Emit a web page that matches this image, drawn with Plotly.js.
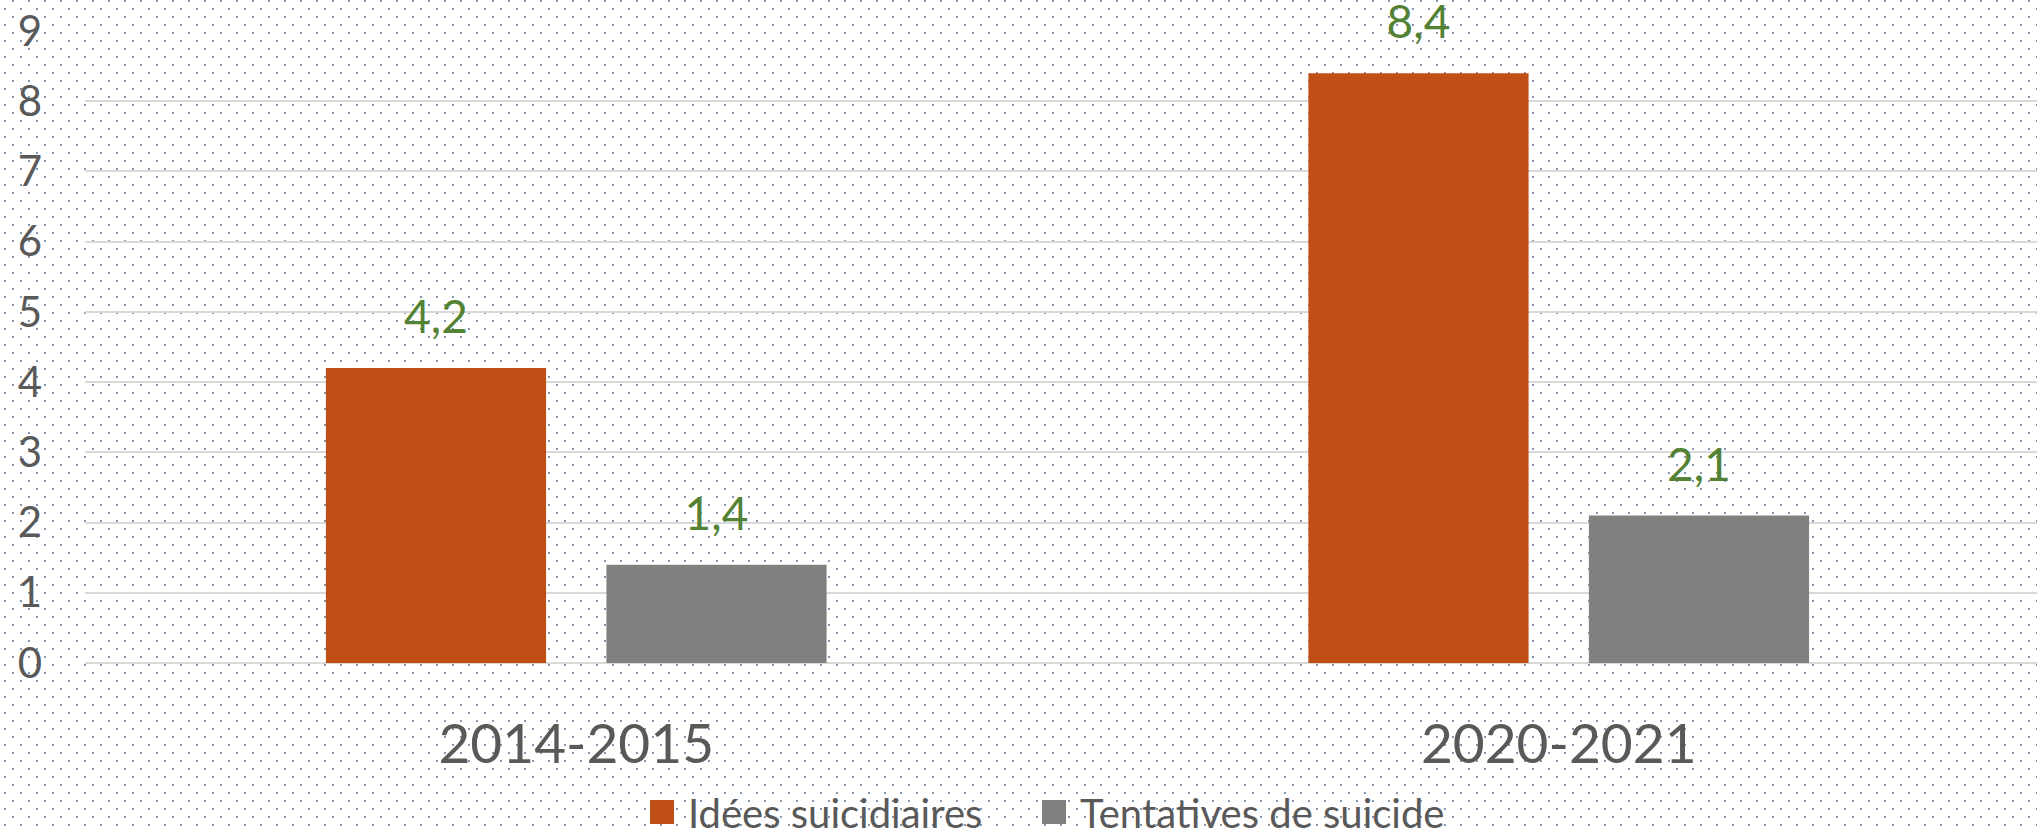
<!DOCTYPE html>
<html>
<head>
<meta charset="utf-8">
<script src="https://cdn.plot.ly/plotly-3.0.1.min.js"></script>
<style>
html, body { margin:0; padding:0; width:2037px; height:829px; overflow:hidden; }
body {
  background-color:#ffffff;
  background-image:url("data:image/svg+xml;utf8,<svg xmlns='http://www.w3.org/2000/svg' width='16' height='16'><rect x='12' y='0' width='2' height='2' fill='%238497b0'/><rect x='4' y='8' width='2' height='2' fill='%238497b0'/></svg>");
  background-repeat:repeat;
  background-position:0 0;
}
#chart { width:2037px; height:829px; }
</style>
</head>
<body>
<div id="chart"></div>
<script>
// ---- data ----
const categories = ['2014-2015', '2020-2021'];
const seriesNames = ['Idées suicidiaires', 'Tentatives de suicide'];
const ideesValues = [4.2, 8.4];
const tentativesValues = [1.4, 2.1];
const yTickValues = [0, 1, 2, 3, 4, 5, 6, 7, 8, 9];
const yTickLabels = ['0', '1', '2', '3', '4', '5', '6', '7', '8', '9'];

// ---- styles ----
const FONT = 'Lato, "Open Sans", sans-serif';
const ORANGE = '#C04F15';
const GRAY = '#808080';
const GREEN = '#548235';
const TEXTGRAY = '#595959';

function barTrace(name, values, color, group, legendId) {
  return {
    type: 'bar',
    name: name,
    x: categories,
    y: values,
    offsetgroup: group,
    legend: legendId,
    marker: { color: color, line: { width: 0 } },
    hoverinfo: 'skip'
  };
}
function labelTrace(values, group) {
  return {
    type: 'scatter',
    mode: 'markers+text',
    x: categories,
    y: values,
    offsetgroup: group,
    marker: { size: 36, opacity: 0 },
    texttemplate: '%{y:.1f}',
    textposition: 'top center',
    textfont: { family: FONT, size: 46, color: GREEN },
    cliponaxis: false,
    showlegend: false,
    hoverinfo: 'skip'
  };
}

const data = [
  barTrace(seriesNames[0], ideesValues, ORANGE, 'g1', 'legend'),
  barTrace(seriesNames[1], tentativesValues, GRAY, 'g2', 'legend2'),
  labelTrace(ideesValues, 'g1'),
  labelTrace(tentativesValues, 'g2')
];

function legendStyle(xPos) {
  return {
    orientation: 'h',
    xref: 'container',
    yref: 'container',
    x: xPos,
    xanchor: 'left',
    y: 0.0205,
    yanchor: 'middle',
    bgcolor: 'rgba(0,0,0,0)',
    borderwidth: 0,
    itemwidth: 42,
    font: { family: FONT, size: 40, color: TEXTGRAY }
  };
}

const layout = {
  width: 2037,
  height: 829,
  margin: { l: 85, r: 0, t: 31, b: 166, autoexpand: false },
  paper_bgcolor: 'rgba(0,0,0,0)',
  plot_bgcolor: 'rgba(0,0,0,0)',
  separators: ', ',
  barmode: 'group',
  bargap: 0.429,
  bargroupgap: 0.215,
  scattermode: 'group',
  scattergap: 0.429,
  font: { family: FONT, color: TEXTGRAY },
  xaxis: {
    type: 'category',
    range: [-0.5, 1.4868],
    showgrid: false,
    zeroline: false,
    showline: false,
    ticks: '',
    tickfont: { family: FONT, size: 55, color: TEXTGRAY },
    ticklabelstandoff: 44,
    fixedrange: true
  },
  yaxis: {
    range: [0, 9],
    tickvals: yTickValues,
    ticktext: yTickLabels,
    showgrid: true,
    gridcolor: '#d9d9d9',
    gridwidth: 2,
    zeroline: true,
    zerolinecolor: '#d9d9d9',
    zerolinewidth: 2,
    showline: false,
    ticks: '',
    tickfont: { family: FONT, size: 42, color: TEXTGRAY },
    ticklabelstandoff: 42,
    fixedrange: true
  },
  showlegend: true,
  legend: legendStyle(636 / 2037),
  legend2: legendStyle(1028 / 2037)
};

function enlargeLegendSquares() {
  document.querySelectorAll('#chart .legendpoints path').forEach(function (p) {
    p.setAttribute('d', 'M12,12H-12V-12H12Z');
  });
}

Plotly.newPlot('chart', data, layout, { staticPlot: true, displayModeBar: false }).then(function (gd) {
  enlargeLegendSquares();
  gd.on('plotly_afterplot', enlargeLegendSquares);
  setTimeout(enlargeLegendSquares, 100);
  setTimeout(enlargeLegendSquares, 500);
});
</script>
</body>
</html>
